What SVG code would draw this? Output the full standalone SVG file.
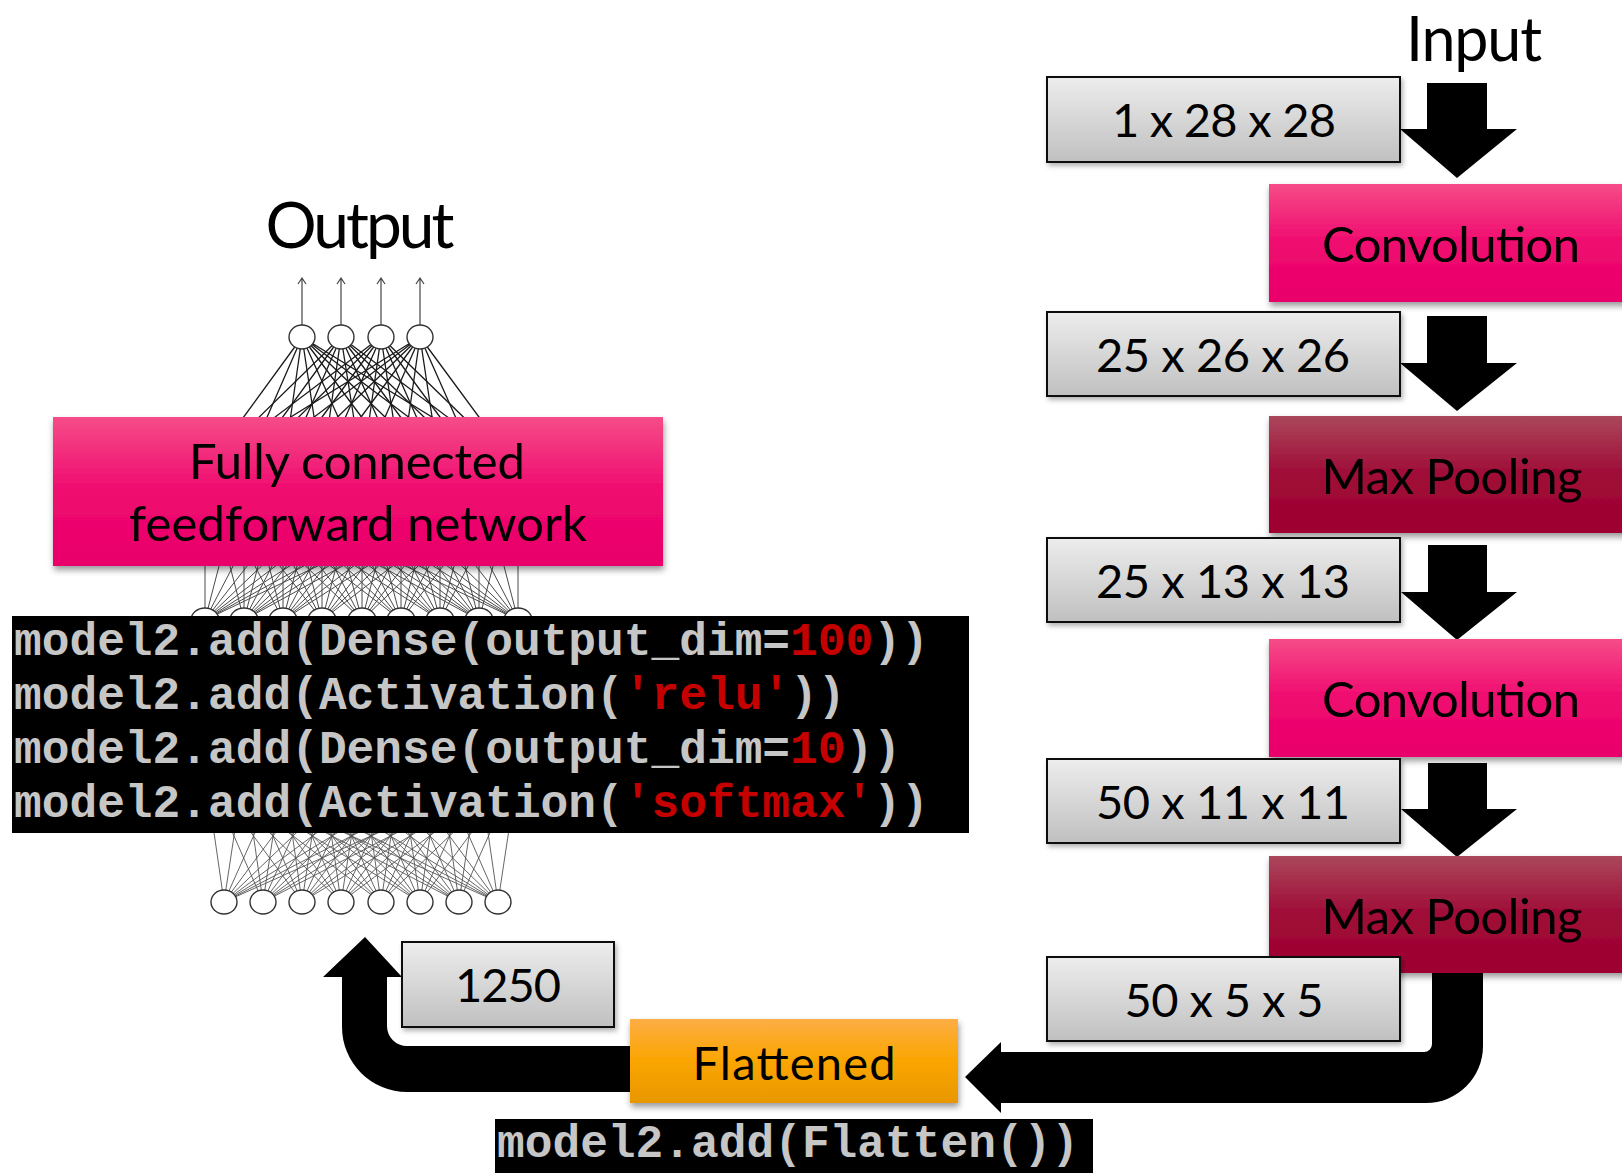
<svg xmlns="http://www.w3.org/2000/svg" width="1622" height="1173" viewBox="0 0 1622 1173">
<defs>
<linearGradient id="gGray" x1="0" y1="0" x2="0" y2="1"><stop offset="0" stop-color="#ededed"/><stop offset="1" stop-color="#c0c0c0"/></linearGradient>
<linearGradient id="gPink" x1="0" y1="0" x2="0" y2="1"><stop offset="0" stop-color="#f64c88"/><stop offset="0.5" stop-color="#ef0a6f"/><stop offset="1" stop-color="#e9006a"/></linearGradient>
<linearGradient id="gRed" x1="0" y1="0" x2="0" y2="1"><stop offset="0" stop-color="#aa475b"/><stop offset="0.5" stop-color="#9f0b37"/><stop offset="1" stop-color="#9e0030"/></linearGradient>
<linearGradient id="gOrange" x1="0" y1="0" x2="0" y2="1"><stop offset="0" stop-color="#fdae45"/><stop offset="0.5" stop-color="#faa500"/><stop offset="1" stop-color="#e89700"/></linearGradient>
<filter id="shC" x="-10%" y="-20%" width="130%" height="150%"><feDropShadow dx="1" dy="4" stdDeviation="3" flood-color="#000" flood-opacity="0.4"/></filter>
<filter id="shG" x="-10%" y="-20%" width="130%" height="150%"><feDropShadow dx="2" dy="3" stdDeviation="2.5" flood-color="#000" flood-opacity="0.3"/></filter>
<style>
.lbl{font-family:Lato,"Open Sans",sans-serif;fill:#000;text-anchor:middle}
.gtx{font-size:47px}
.ctx{font-size:49px}
.gray{fill:url(#gGray);stroke:#111;stroke-width:2;filter:url(#shG)}
.pink{fill:url(#gPink);filter:url(#shC)}
.red{fill:url(#gRed);filter:url(#shC)}
.orange{fill:url(#gOrange);filter:url(#shC)}
.code{font-family:"Liberation Mono","Courier New",monospace;font-weight:bold;font-size:46.2px;fill:#c6c6c6}
.rd{fill:#c40000}
.blk{fill:#000}
.fanTop{fill:none;stroke:#1a1a1a;stroke-width:1.3}
.fanMid{fill:none;stroke:#4a4a4a;stroke-width:1}
.fanBot{fill:none;stroke:#555;stroke-width:0.9}
.neu{fill:#fff;stroke:#333;stroke-width:1.4}
.outArr{fill:none;stroke:#444;stroke-width:1.2}
</style>
</defs>
<rect width="1622" height="1173" fill="#fff"/>

<g id="nn-illustration">
<path class="fanTop" d="M302 337L205 470M302 337L244 470M302 337L283 470M302 337L322 470M302 337L362 470M302 337L401 470M302 337L440 470M302 337L479 470M302 337L518 470"/>
<path class="fanTop" d="M341 337L205 470M341 337L244 470M341 337L283 470M341 337L322 470M341 337L362 470M341 337L401 470M341 337L440 470M341 337L479 470M341 337L518 470"/>
<path class="fanTop" d="M381 337L205 470M381 337L244 470M381 337L283 470M381 337L322 470M381 337L362 470M381 337L401 470M381 337L440 470M381 337L479 470M381 337L518 470"/>
<path class="fanTop" d="M420 337L205 470M420 337L244 470M420 337L283 470M420 337L322 470M420 337L362 470M420 337L401 470M420 337L440 470M420 337L479 470M420 337L518 470"/>
<path class="fanMid" d="M205 470L205 620M205 470L244 620M205 470L283 620M205 470L322 620M205 470L362 620M205 470L401 620M205 470L440 620M205 470L479 620M205 470L518 620"/>
<path class="fanMid" d="M244 470L205 620M244 470L244 620M244 470L283 620M244 470L322 620M244 470L362 620M244 470L401 620M244 470L440 620M244 470L479 620M244 470L518 620"/>
<path class="fanMid" d="M283 470L205 620M283 470L244 620M283 470L283 620M283 470L322 620M283 470L362 620M283 470L401 620M283 470L440 620M283 470L479 620M283 470L518 620"/>
<path class="fanMid" d="M322 470L205 620M322 470L244 620M322 470L283 620M322 470L322 620M322 470L362 620M322 470L401 620M322 470L440 620M322 470L479 620M322 470L518 620"/>
<path class="fanMid" d="M362 470L205 620M362 470L244 620M362 470L283 620M362 470L322 620M362 470L362 620M362 470L401 620M362 470L440 620M362 470L479 620M362 470L518 620"/>
<path class="fanMid" d="M401 470L205 620M401 470L244 620M401 470L283 620M401 470L322 620M401 470L362 620M401 470L401 620M401 470L440 620M401 470L479 620M401 470L518 620"/>
<path class="fanMid" d="M440 470L205 620M440 470L244 620M440 470L283 620M440 470L322 620M440 470L362 620M440 470L401 620M440 470L440 620M440 470L479 620M440 470L518 620"/>
<path class="fanMid" d="M479 470L205 620M479 470L244 620M479 470L283 620M479 470L322 620M479 470L362 620M479 470L401 620M479 470L440 620M479 470L479 620M479 470L518 620"/>
<path class="fanMid" d="M518 470L205 620M518 470L244 620M518 470L283 620M518 470L322 620M518 470L362 620M518 470L401 620M518 470L440 620M518 470L479 620M518 470L518 620"/>
<path class="fanBot" d="M224 902L205 770M224 902L244 770M224 902L283 770M224 902L322 770M224 902L362 770M224 902L401 770M224 902L440 770M224 902L479 770M224 902L518 770"/>
<path class="fanBot" d="M263 902L205 770M263 902L244 770M263 902L283 770M263 902L322 770M263 902L362 770M263 902L401 770M263 902L440 770M263 902L479 770M263 902L518 770"/>
<path class="fanBot" d="M302 902L205 770M302 902L244 770M302 902L283 770M302 902L322 770M302 902L362 770M302 902L401 770M302 902L440 770M302 902L479 770M302 902L518 770"/>
<path class="fanBot" d="M341 902L205 770M341 902L244 770M341 902L283 770M341 902L322 770M341 902L362 770M341 902L401 770M341 902L440 770M341 902L479 770M341 902L518 770"/>
<path class="fanBot" d="M381 902L205 770M381 902L244 770M381 902L283 770M381 902L322 770M381 902L362 770M381 902L401 770M381 902L440 770M381 902L479 770M381 902L518 770"/>
<path class="fanBot" d="M420 902L205 770M420 902L244 770M420 902L283 770M420 902L322 770M420 902L362 770M420 902L401 770M420 902L440 770M420 902L479 770M420 902L518 770"/>
<path class="fanBot" d="M459 902L205 770M459 902L244 770M459 902L283 770M459 902L322 770M459 902L362 770M459 902L401 770M459 902L440 770M459 902L479 770M459 902L518 770"/>
<path class="fanBot" d="M498 902L205 770M498 902L244 770M498 902L283 770M498 902L322 770M498 902L362 770M498 902L401 770M498 902L440 770M498 902L479 770M498 902L518 770"/>
<path class="outArr" d="M302 325V278M298 284L302 278L306 284M341 325V278M337 284L341 278L345 284M381 325V278M377 284L381 278L385 284M420 325V278M416 284L420 278L424 284"/>
<ellipse class="neu" cx="302" cy="337" rx="13" ry="12"/>
<ellipse class="neu" cx="341" cy="337" rx="13" ry="12"/>
<ellipse class="neu" cx="381" cy="337" rx="13" ry="12"/>
<ellipse class="neu" cx="420" cy="337" rx="13" ry="12"/>
<ellipse class="neu" cx="205" cy="620" rx="14" ry="12"/>
<ellipse class="neu" cx="244" cy="620" rx="14" ry="12"/>
<ellipse class="neu" cx="283" cy="620" rx="14" ry="12"/>
<ellipse class="neu" cx="322" cy="620" rx="14" ry="12"/>
<ellipse class="neu" cx="362" cy="620" rx="14" ry="12"/>
<ellipse class="neu" cx="401" cy="620" rx="14" ry="12"/>
<ellipse class="neu" cx="440" cy="620" rx="14" ry="12"/>
<ellipse class="neu" cx="479" cy="620" rx="14" ry="12"/>
<ellipse class="neu" cx="518" cy="620" rx="14" ry="12"/>
<ellipse class="neu" cx="224" cy="902" rx="13" ry="12"/>
<ellipse class="neu" cx="263" cy="902" rx="13" ry="12"/>
<ellipse class="neu" cx="302" cy="902" rx="13" ry="12"/>
<ellipse class="neu" cx="341" cy="902" rx="13" ry="12"/>
<ellipse class="neu" cx="381" cy="902" rx="13" ry="12"/>
<ellipse class="neu" cx="420" cy="902" rx="13" ry="12"/>
<ellipse class="neu" cx="459" cy="902" rx="13" ry="12"/>
<ellipse class="neu" cx="498" cy="902" rx="13" ry="12"/>
</g>

<g id="connectors">
<polygon class="blk" points="1427,83 1487,83 1487,129 1517,129 1457,178 1400,129 1427,129"/>
<polygon class="blk" points="1427,316 1487,316 1487,363 1517,363 1457,411 1400,363 1427,363"/>
<polygon class="blk" points="1428,545 1487,545 1487,592 1517,592 1457,640 1401,592 1428,592"/>
<polygon class="blk" points="1428,763 1487,763 1487,809 1517,809 1457,857 1401,809 1428,809"/>
<path class="blk" d="M1432,965 L1483,965 L1483,1046 A57,57 0 0 1 1426,1103 L1001,1103 L1001,1113 L965,1077 L1001,1042 L1001,1052 L1424,1052 A8,8 0 0 0 1432,1044 Z"/>
<path class="blk" d="M660,1046 L407,1046 A20,20 0 0 1 387,1026 L387,977 L402,977 L365,937 L323,977 L342,977 L342,1027 A65,65 0 0 0 407,1092 L660,1092 Z"/>
</g>

<g id="label-output"><text class="lbl" x="360" y="248" font-size="64" textLength="189">Output</text></g>
<g id="label-input"><text class="lbl" x="1474" y="61" font-size="61" textLength="136">Input</text></g>

<g id="node-fc">
<rect class="pink" x="53" y="417" width="610" height="149"/>
<text class="lbl ctx" x="357" y="479" textLength="336">Fully connected</text>
<text class="lbl ctx" x="358" y="541" textLength="458">feedforward network</text>
</g>

<g id="code-dense">
<rect x="12" y="616" width="957" height="217" fill="#000"/>
<text class="code" x="14" y="655">model2.add(Dense(output_dim=<tspan class="rd">100</tspan>))</text>
<text class="code" x="14" y="709">model2.add(Activation(<tspan class="rd">'relu'</tspan>))</text>
<text class="code" x="14" y="763">model2.add(Dense(output_dim=<tspan class="rd">10</tspan>))</text>
<text class="code" x="14" y="817">model2.add(Activation(<tspan class="rd">'softmax'</tspan>))</text>
</g>

<g id="node-1x28x28"><rect class="gray" x="1047" y="77" width="353" height="85"/><text class="lbl gtx" x="1224" y="137" textLength="224">1 x 28 x 28</text></g>
<g id="node-conv1"><rect class="pink" x="1269" y="184" width="370" height="118"/><text class="lbl ctx" x="1451" y="262" textLength="258">Convolution</text></g>
<g id="node-25x26x26"><rect class="gray" x="1047" y="312" width="353" height="84"/><text class="lbl gtx" x="1223" y="372" textLength="254">25 x 26 x 26</text></g>
<g id="node-maxpool1"><rect class="red" x="1269" y="416" width="370" height="117"/><text class="lbl ctx" x="1452" y="494" textLength="261">Max Pooling</text></g>
<g id="node-25x13x13"><rect class="gray" x="1047" y="538" width="353" height="84"/><text class="lbl gtx" x="1223" y="598" textLength="254">25 x 13 x 13</text></g>
<g id="node-conv2"><rect class="pink" x="1269" y="639" width="370" height="118"/><text class="lbl ctx" x="1451" y="717" textLength="258">Convolution</text></g>
<g id="node-50x11x11"><rect class="gray" x="1047" y="759" width="353" height="84"/><text class="lbl gtx" x="1223" y="819" textLength="254">50 x 11 x 11</text></g>
<g id="node-maxpool2"><rect class="red" x="1269" y="856" width="370" height="117"/><text class="lbl ctx" x="1452" y="934" textLength="261">Max Pooling</text></g>
<g id="node-50x5x5"><rect class="gray" x="1047" y="957" width="353" height="84"/><text class="lbl gtx" x="1224" y="1017" textLength="199">50 x 5 x 5</text></g>

<g id="node-1250"><rect class="gray" x="402" y="942" width="212" height="85"/><text class="lbl gtx" x="508" y="1002" textLength="106">1250</text></g>
<g id="node-flattened"><rect class="orange" x="630" y="1019" width="328" height="84"/><text class="lbl gtx" x="794" y="1080" textLength="203">Flattened</text></g>

<g id="code-flatten">
<rect x="495" y="1119" width="598" height="54" fill="#000"/>
<text class="code" x="497" y="1157">model2.add(Flatten())</text>
</g>
</svg>
